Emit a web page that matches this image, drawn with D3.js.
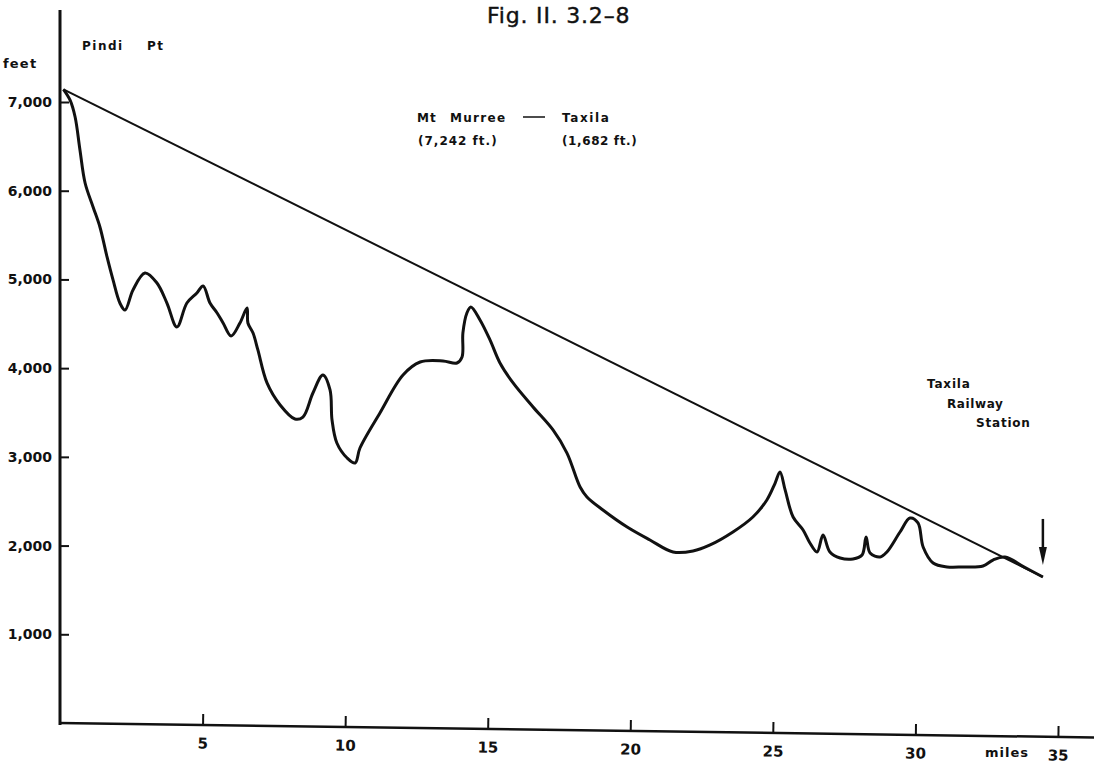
<!DOCTYPE html>
<html>
<head>
<meta charset="utf-8">
<script src="https://cdn.jsdelivr.net/npm/d3@7"></script>
<style>
  html, body { margin: 0; padding: 0; background: #fff; }
  svg { display: block; }
  text { font-family: "DejaVu Sans", sans-serif; fill: #111; }
</style>
</head>
<body>
<div id="chart"></div>
<script>
const W = 1094, H = 765;

// ground profile, Mt Murree -> Taxila (miles, feet)
const profileMiles = [0.12, 0.35, 0.53, 0.70, 0.88, 1.16, 1.40, 1.65, 1.86, 2.10, 2.28, 2.56, 2.98, 3.40, 3.75, 4.10,
  4.45, 4.80, 5.02, 5.26, 5.51, 5.72, 6.00, 6.31, 6.56, 6.59, 6.77, 6.94, 7.26, 7.72, 8.24, 8.52, 8.87, 9.22,
  9.47, 9.54, 9.71, 10.07, 10.35, 10.52, 11.22, 12.03, 12.63, 13.43, 13.92, 14.10, 14.13, 14.27, 14.41, 14.73,
  15.08, 15.43, 15.89, 16.59, 17.29, 17.78, 18.24, 18.48, 19.04, 19.89, 20.69, 21.50, 22.20, 22.80, 23.60, 24.30,
  24.79, 25.08, 25.25, 25.43, 25.71, 26.06, 26.30, 26.55, 26.76, 27.00, 27.36, 27.81, 28.13, 28.27, 28.41, 28.76,
  29.00, 29.46, 29.81, 30.09, 30.27, 30.62, 31.11, 31.67, 32.37, 32.72, 33.14, 33.80, 34.47];
const profileFeet = [7143, 7023, 6831, 6459, 6087, 5817, 5591, 5253, 4994, 4734, 4655, 4881, 5073, 4960, 4734, 4464,
  4734, 4847, 4926, 4734, 4622, 4509, 4362, 4509, 4678, 4509, 4396, 4205, 3833, 3585, 3427, 3449, 3720, 3923,
  3754, 3416, 3156, 2987, 2931, 3100, 3495, 3923, 4069, 4081, 4058, 4126, 4397, 4622, 4690, 4543,
  4318, 4058, 3833, 3562, 3303, 3043, 2660, 2548, 2401, 2209, 2063, 1928, 1939, 2007, 2153, 2322,
  2514, 2705, 2829, 2627, 2322, 2176, 2029, 1928, 2119, 1928, 1860, 1849, 1894, 2097, 1916, 1871,
  1928, 2153, 2311, 2255, 1984, 1804, 1759, 1759, 1770, 1837, 1871, 1760, 1646];

// straight line Murree summit -> Taxila
const gradeMiles = [0.12, 34.47];
const gradeFeet = [7143, 1646];

const xTicks = [5, 10, 15, 20, 25, 30, 35];
const yTicks = [1000, 2000, 3000, 4000, 5000, 6000, 7000];

const stationMile = 34.47;
const arrowFeet = [2300, 1780];

const x = d3.scaleLinear().domain([0, 35]).range([60, 1058]);
const y = d3.scaleLinear().domain([0, 7000]).range([723, 102]);

const svg = d3.select('#chart').append('svg')
  .attr('width', W)
  .attr('height', H);

// y axis
svg.append('line')
  .attr('x1', x(0)).attr('x2', x(0))
  .attr('y1', 10).attr('y2', y(0) + 2)
  .attr('stroke', '#111').attr('stroke-width', 3);

const yAxis = svg.append('g')
  .attr('transform', `translate(${x(0)},0)`)
  .call(d3.axisLeft(y).tickValues(yTicks).tickFormat(d3.format(','))
    .tickSizeInner(-9).tickSizeOuter(0).tickPadding(8));
yAxis.select('.domain').remove();
yAxis.selectAll('.tick line').attr('stroke', '#111').attr('stroke-width', 2);
yAxis.selectAll('.tick text')
  .attr('font-size', 14).attr('font-weight', 'bold')
  .attr('font-family', '"DejaVu Sans", sans-serif').attr('fill', '#111');

// x axis (the scan is slightly skewed, so the axis drops a little to the right)
const xAxisG = svg.append('g')
  .attr('transform', `rotate(0.8, ${x(0)}, ${y(0)})`);
xAxisG.append('line')
  .attr('x1', x(0) - 1).attr('x2', W + 20)
  .attr('y1', y(0)).attr('y2', y(0))
  .attr('stroke', '#111').attr('stroke-width', 2.5);
const xAxis = xAxisG.append('g')
  .attr('transform', `translate(0,${y(0)})`)
  .call(d3.axisBottom(x).tickValues(xTicks)
    .tickSizeInner(-11).tickSizeOuter(0).tickPadding(13));
xAxis.select('.domain').remove();
xAxis.selectAll('.tick line').attr('stroke', '#111').attr('stroke-width', 2);
xAxis.selectAll('.tick text')
  .attr('font-size', 15).attr('font-weight', 'bold')
  .attr('font-family', '"DejaVu Sans", sans-serif').attr('fill', '#111');

svg.append('text')
  .attr('x', 985).attr('y', 757)
  .attr('font-size', 13).attr('font-weight', 'bold')
  .attr('letter-spacing', 1)
  .text('miles');

// grade line
const gradeLine = d3.line().x(d => x(d[0])).y(d => y(d[1]));
svg.append('path')
  .datum(d3.zip(gradeMiles, gradeFeet))
  .attr('d', gradeLine)
  .attr('fill', 'none')
  .attr('stroke', '#111')
  .attr('stroke-width', 2);

// profile
const profileLine = d3.line()
  .x(d => x(d[0]))
  .y(d => y(d[1]))
  .curve(d3.curveCatmullRom.alpha(0.5));
svg.append('path')
  .datum(d3.zip(profileMiles, profileFeet))
  .attr('d', profileLine)
  .attr('fill', 'none')
  .attr('stroke', '#111')
  .attr('stroke-width', 3)
  .attr('stroke-linejoin', 'round');

// arrow at the station
const ax = x(stationMile);
svg.append('line')
  .attr('x1', ax).attr('x2', ax)
  .attr('y1', y(arrowFeet[0])).attr('y2', y(arrowFeet[1]) - 12)
  .attr('stroke', '#111').attr('stroke-width', 2.5);
svg.append('path')
  .attr('d', `M${ax - 4},${y(arrowFeet[1]) - 18}L${ax + 4},${y(arrowFeet[1]) - 18}L${ax},${y(arrowFeet[1])}Z`)
  .attr('fill', '#111');

// texts
svg.append('text')
  .attr('x', 487).attr('y', 23)
  .attr('font-family', '"Liberation Sans", Arial, sans-serif')
  .attr('font-size', 22).attr('letter-spacing', 0.8)
  .attr('stroke', '#111').attr('stroke-width', 0.4)
  .text('Fig. II. 3.2\u20138');

const lab = (t, px, py, size = 12, ls = 1.2) => svg.append('text')
  .attr('x', px).attr('y', py)
  .attr('font-size', size).attr('font-weight', 'bold')
  .attr('letter-spacing', ls)
  .text(t);

lab('Pindi', 82, 50, 12, 1.5);
lab('Pt', 147, 50, 12, 1.5);
lab('feet', 3, 68, 13, 1.2);

lab('Mt', 417, 122, 12, 1);
lab('Murree', 450, 122, 12, 1.3);
svg.append('line')
  .attr('x1', 523).attr('x2', 545)
  .attr('y1', 117).attr('y2', 117)
  .attr('stroke', '#111').attr('stroke-width', 1.5);
lab('Taxila', 562, 122, 12, 1.6);
lab('(7,242 ft.)', 418, 145, 12, 1);
lab('(1,682 ft.)', 562, 145, 12, 0.6);

lab('Taxila', 927, 388, 12, 0.8);
lab('Railway', 947, 408, 12, 0.6);
lab('Station', 976, 427, 12, 0.8);
</script>
</body>
</html>
